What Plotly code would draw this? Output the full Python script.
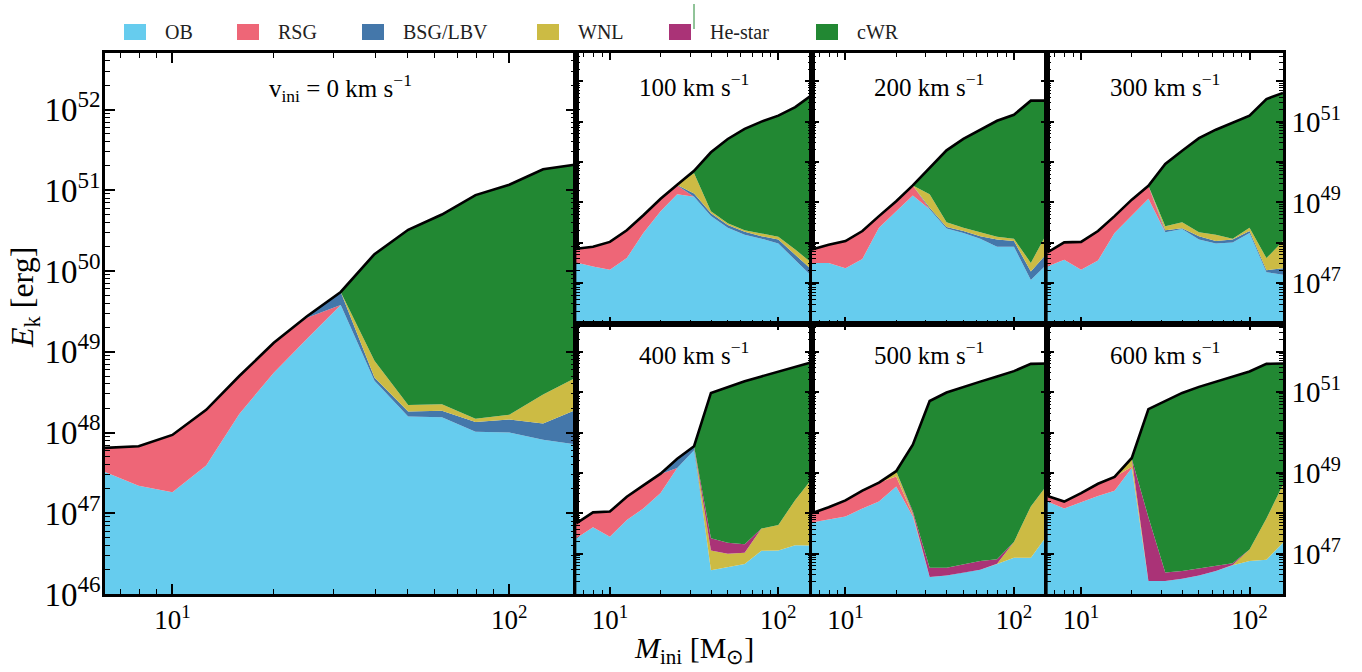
import numpy as np
import plotly.graph_objects as go

# Initial mass grid (M_sun)
mass = [6.31, 7.94, 10.0, 12.6, 15.8, 20.0, 25.1, 31.6, 39.8, 50.1, 63.1, 79.4, 100.0, 126.0, 158.0]
velocities = [0, 100, 200, 300, 400, 500, 600]
classes = ["OB", "RSG", "BSG/LBV", "WNL", "He-star", "cWR"]
colors = ["#66CCEE", "#EE6677", "#4477AA", "#CCBB44", "#AA3377", "#228833"]

# Cumulative kinetic energy (erg) at the upper edge of each stacked class,
# one row per initial rotation velocity (0 ... 600 km/s)
top_OB = [
    [3.24e47, 2.19e47, 1.82e47, 3.89e47, 1.70e48, 5.50e48, 1.45e49, 3.80e49, 4.37e48, 1.58e48, 1.55e48, 1.02e48, 1.00e48, 8.13e47, 7.08e47],
    [3.24e47, 2.57e47, 2.14e47, 4.17e47, 1.74e48, 6.03e48, 1.58e49, 1.38e49, 4.57e48, 2.34e48, 1.58e48, 1.26e48, 9.55e47, 3.80e47, 1.48e47],
    [3.16e47, 3.16e47, 2.34e47, 3.98e47, 2.34e48, 6.03e48, 1.48e49, 6.76e48, 2.24e48, 1.74e48, 1.26e48, 7.94e47, 7.94e47, 1.20e47, 3.02e47],
    [2.57e47, 3.80e47, 2.14e47, 3.63e47, 1.74e48, 4.57e48, 1.23e49, 1.82e48, 2.19e48, 1.20e48, 9.55e47, 1.02e48, 1.74e48, 1.86e47, 1.62e47],
    [2.40e47, 4.47e47, 2.63e47, 6.76e47, 1.32e48, 3.16e48, 1.32e49, 3.63e49, 3.89e46, 4.68e46, 5.50e46, 1.17e47, 1.20e47, 1.62e47, 1.58e47],
    [5.89e47, 7.08e47, 8.32e47, 1.32e48, 1.95e48, 4.57e48, 8.32e47, 2.63e46, 2.88e46, 3.39e46, 3.98e46, 5.50e46, 7.94e46, 7.94e46, 2.88e47],
    [1.95e48, 1.32e48, 1.86e48, 2.69e48, 3.63e48, 1.32e49, 2.09e46, 2.09e46, 2.40e46, 2.88e46, 3.72e46, 5.13e46, 6.61e46, 7.08e46, 1.86e47],
]
top_RSG = [
    [6.46e47, 6.76e47, 9.33e47, 1.91e48, 5.01e48, 1.29e49, 2.63e49, 3.80e49, 4.37e48, 1.58e48, 1.55e48, 1.02e48, 1.00e48, 8.13e47, 7.08e47],
    [7.08e47, 7.94e47, 1.05e48, 2.04e48, 4.79e48, 1.23e49, 2.63e49, 1.38e49, 4.57e48, 2.34e48, 1.58e48, 1.26e48, 9.55e47, 3.80e47, 1.48e47],
    [6.76e47, 8.91e47, 1.10e48, 1.95e48, 4.57e48, 1.07e49, 2.63e49, 6.76e48, 2.24e48, 1.74e48, 1.26e48, 7.94e47, 7.94e47, 1.20e47, 3.02e47],
    [5.75e47, 1.02e48, 1.05e48, 1.95e48, 4.57e48, 1.17e49, 2.57e49, 1.82e48, 2.19e48, 1.20e48, 9.55e47, 1.02e48, 1.74e48, 1.86e47, 1.62e47],
    [5.62e47, 1.05e48, 1.10e48, 2.57e48, 4.90e48, 9.33e48, 1.32e49, 3.63e49, 3.89e46, 4.68e46, 5.50e46, 1.17e47, 1.20e47, 1.62e47, 1.58e47],
    [1.00e48, 1.41e48, 2.09e48, 3.63e48, 5.75e48, 8.13e48, 9.12e47, 2.63e46, 2.88e46, 3.39e46, 3.98e46, 5.50e46, 7.94e46, 7.94e46, 2.88e47],
    [2.69e48, 1.95e48, 3.16e48, 5.37e48, 7.94e48, 1.41e49, 2.09e46, 2.09e46, 2.40e46, 2.88e46, 3.72e46, 5.13e46, 6.61e46, 7.08e46, 1.86e47],
]
top_BSG = [
    [6.46e47, 6.76e47, 9.33e47, 1.91e48, 5.01e48, 1.29e49, 2.75e49, 5.50e49, 4.79e48, 1.82e48, 1.86e48, 1.35e48, 1.45e48, 1.29e48, 1.91e48],
    [7.08e47, 7.94e47, 1.05e48, 2.04e48, 4.79e48, 1.23e49, 2.69e49, 1.66e49, 5.37e48, 2.75e48, 1.86e48, 1.45e48, 1.20e48, 5.13e47, 2.14e47],
    [6.76e47, 8.91e47, 1.10e48, 1.95e48, 4.57e48, 1.07e49, 2.63e49, 7.41e48, 2.45e48, 1.95e48, 1.45e48, 1.20e48, 1.10e48, 1.95e47, 5.62e47],
    [5.75e47, 1.02e48, 1.05e48, 1.95e48, 4.57e48, 1.17e49, 2.57e49, 2.04e48, 2.29e48, 1.45e48, 1.10e48, 1.20e48, 1.95e48, 2.09e47, 2.34e47],
    [5.62e47, 1.05e48, 1.10e48, 2.57e48, 4.90e48, 9.55e48, 2.24e49, 4.57e49, 3.89e46, 4.68e46, 5.50e46, 1.17e47, 1.20e47, 1.62e47, 1.58e47],
    [1.00e48, 1.41e48, 2.09e48, 3.63e48, 5.75e48, 8.13e48, 9.12e47, 2.63e46, 2.88e46, 3.39e46, 3.98e46, 5.50e46, 7.94e46, 7.94e46, 2.88e47],
    [2.69e48, 1.95e48, 3.16e48, 5.37e48, 7.94e48, 1.41e49, 2.09e46, 2.09e46, 2.40e46, 2.88e46, 3.72e46, 5.13e46, 6.61e46, 7.08e46, 1.86e47],
]
top_WNL = [
    [6.46e47, 6.76e47, 9.33e47, 1.91e48, 5.01e48, 1.29e49, 2.75e49, 5.50e49, 7.76e48, 2.19e48, 2.24e48, 1.48e48, 1.66e48, 2.95e48, 4.79e48],
    [7.08e47, 7.94e47, 1.05e48, 2.04e48, 4.79e48, 1.23e49, 2.75e49, 5.25e49, 6.03e48, 3.02e48, 2.04e48, 1.70e48, 1.41e48, 6.76e47, 3.16e47],
    [6.76e47, 8.91e47, 1.10e48, 1.95e48, 4.57e48, 1.07e49, 2.63e49, 1.58e49, 3.24e48, 2.34e48, 1.82e48, 1.41e48, 1.26e48, 3.16e47, 1.82e48],
    [5.75e47, 1.02e48, 1.05e48, 1.95e48, 4.57e48, 1.17e49, 2.57e49, 2.57e48, 3.24e48, 1.82e48, 1.58e48, 1.26e48, 2.34e48, 4.17e47, 1.10e48],
    [5.62e47, 1.05e48, 1.10e48, 2.57e48, 4.90e48, 9.55e48, 2.24e49, 4.57e49, 1.20e47, 1.00e47, 1.05e47, 4.17e47, 5.13e47, 2.14e48, 7.08e48],
    [1.00e48, 1.41e48, 2.09e48, 3.63e48, 5.75e48, 1.10e49, 1.00e48, 2.63e46, 2.88e46, 3.39e46, 3.98e46, 5.62e46, 1.95e47, 1.48e48, 5.13e48],
    [2.69e48, 1.95e48, 3.16e48, 5.37e48, 7.94e48, 2.24e49, 2.09e46, 2.09e46, 2.40e46, 2.88e46, 3.72e46, 5.25e46, 1.26e47, 7.41e47, 5.13e48],
]
top_He = [
    [6.46e47, 6.76e47, 9.33e47, 1.91e48, 5.01e48, 1.29e49, 2.75e49, 5.50e49, 7.76e48, 2.19e48, 2.24e48, 1.48e48, 1.66e48, 2.95e48, 4.79e48],
    [7.08e47, 7.94e47, 1.05e48, 2.04e48, 4.79e48, 1.23e49, 2.75e49, 5.25e49, 6.03e48, 3.02e48, 2.04e48, 1.70e48, 1.41e48, 6.76e47, 3.16e47],
    [6.76e47, 8.91e47, 1.10e48, 1.95e48, 4.57e48, 1.07e49, 2.63e49, 1.58e49, 3.24e48, 2.34e48, 1.82e48, 1.41e48, 1.26e48, 3.16e47, 1.82e48],
    [5.75e47, 1.02e48, 1.05e48, 1.95e48, 4.57e48, 1.17e49, 2.57e49, 2.57e48, 3.24e48, 1.82e48, 1.58e48, 1.26e48, 2.34e48, 4.17e47, 1.10e48],
    [5.62e47, 1.05e48, 1.10e48, 2.57e48, 4.90e48, 9.55e48, 2.24e49, 4.57e49, 2.40e47, 1.86e47, 1.70e47, 4.17e47, 5.13e47, 2.14e48, 7.08e48],
    [1.00e48, 1.41e48, 2.09e48, 3.63e48, 5.75e48, 1.10e49, 1.12e48, 4.47e46, 4.47e46, 5.50e46, 6.61e46, 7.24e46, 1.95e47, 1.48e48, 5.13e48],
    [2.69e48, 1.95e48, 3.16e48, 5.37e48, 7.94e48, 2.24e49, 7.94e47, 3.39e46, 3.72e46, 4.27e46, 4.90e46, 5.75e46, 1.26e47, 7.41e47, 5.13e48],
]
# Total kinetic energy (upper edge of the cWR layer)
E_total = [
    [6.46e47, 6.76e47, 9.33e47, 1.91e48, 5.01e48, 1.29e49, 2.75e49, 5.50e49, 1.62e50, 3.24e50, 5.01e50, 8.71e50, 1.17e51, 1.82e51, 2.09e51],
    [7.08e47, 7.94e47, 1.05e48, 2.04e48, 4.79e48, 1.23e49, 2.75e49, 6.03e49, 1.74e50, 3.72e50, 6.61e50, 1.00e51, 1.41e51, 2.29e51, 4.57e51],
    [6.76e47, 8.91e47, 1.10e48, 1.95e48, 4.57e48, 1.07e49, 2.63e49, 7.24e49, 1.95e50, 3.72e50, 6.31e50, 1.05e51, 1.48e51, 3.31e51, 3.31e51],
    [5.75e47, 1.02e48, 1.05e48, 1.95e48, 4.57e48, 1.17e49, 2.57e49, 8.91e49, 1.91e50, 3.89e50, 6.31e50, 9.55e50, 1.41e51, 3.63e51, 5.13e51],
    [5.62e47, 1.05e48, 1.10e48, 2.57e48, 4.90e48, 9.55e48, 2.24e49, 4.57e49, 9.55e50, 1.32e51, 1.86e51, 2.45e51, 3.24e51, 4.37e51, 5.50e51],
    [1.00e48, 1.41e48, 2.09e48, 3.63e48, 5.75e48, 1.10e49, 5.01e49, 6.03e50, 9.77e50, 1.35e51, 1.82e51, 2.45e51, 3.31e51, 5.01e51, 5.13e51],
    [2.69e48, 1.95e48, 3.16e48, 5.37e48, 7.94e48, 2.34e49, 3.80e50, 6.03e50, 9.55e50, 1.35e51, 1.82e51, 2.45e51, 3.24e51, 5.01e51, 5.13e51],
]

layers = [top_OB, top_RSG, top_BSG, top_WNL, top_He, E_total]

FONT = "Liberation Serif"
Y_RANGE = [46, 52.7]
X_RANGE = [np.log10(mass[0]), np.log10(mass[-1])]

# figure geometry in pixels (plot area)
L, R, T, B = 105, 1283, 53, 594
W, H = R - L, B - T


def fx(px):
    return (px - L) / W


def fy(py):
    return (B - py) / H


# panel placement: (x-domain, y-domain, show x labels, y label side)
panels = [
    ([0.0, 0.4], [0.0, 1.0], True, "left"),
    ([0.4, 0.6], [0.5, 1.0], False, None),
    ([0.6, 0.8], [0.5, 1.0], False, None),
    ([0.8, 1.0], [0.5, 1.0], False, "right"),
    ([0.4, 0.6], [0.0, 0.5], True, None),
    ([0.6, 0.8], [0.0, 0.5], True, None),
    ([0.8, 1.0], [0.0, 0.5], True, "right"),
]

fig = go.Figure()

for i, v in enumerate(velocities):
    xa = "x" if i == 0 else f"x{i + 1}"
    ya = "y" if i == 0 else f"y{i + 1}"
    # floor of the first filled layer, below the visible range
    fig.add_trace(go.Scatter(x=mass, y=[1e40] * len(mass), mode="lines",
                             line=dict(width=0, color="rgba(0,0,0,0)"),
                             xaxis=xa, yaxis=ya, showlegend=False, hoverinfo="skip"))
    for name, col, layer in zip(classes, colors, layers):
        fig.add_trace(go.Scatter(x=mass, y=layer[i], mode="lines", name=name,
                                 line=dict(width=0, color=col), fill="tonexty",
                                 fillcolor=col, xaxis=xa, yaxis=ya,
                                 showlegend=False, hoverinfo="skip"))
    fig.add_trace(go.Scatter(x=mass, y=E_total[i], mode="lines",
                             line=dict(width=2.6, color="black"),
                             xaxis=xa, yaxis=ya, showlegend=False, hoverinfo="skip"))

# tick positions
y_major = [10.0 ** k for k in range(46, 53)]
y_minor = [m * 10.0 ** k for k in range(46, 53) for m in range(2, 10)]
x_major = [10.0, 100.0]
x_minor = [m * 10.0 ** k for k in range(0, 3) for m in range(2, 10)]

layout_axes = {}
for i, (xd, yd, show_x, yside) in enumerate(panels):
    main = i == 0
    xkey = "xaxis" if main else f"xaxis{i + 1}"
    ykey = "yaxis" if main else f"yaxis{i + 1}"
    yanchor = "y" if main else f"y{i + 1}"
    xanchor = "x" if main else f"x{i + 1}"
    major_len = 10 if main else 7
    minor_len = 5 if main else 4
    layout_axes[xkey] = dict(
        type="log", domain=xd, anchor=yanchor, range=X_RANGE,
        showline=True, linecolor="black", linewidth=2.6, mirror="allticks",
        ticks="inside", ticklen=major_len, tickwidth=2, tickcolor="black",
        tickmode="array", tickvals=x_major,
        ticktext=["10<sup>1</sup>", "10<sup>2</sup>"],
        showticklabels=show_x,
        tickfont=dict(family=FONT, size=27, color="black"),
        minor=dict(tickmode="array", tickvals=x_minor, ticks="inside",
                   ticklen=minor_len, tickwidth=1.4, tickcolor="black"),
        showgrid=False, zeroline=False,
    )
    if main:
        ytext = [f"10<sup>{k}</sup>" for k in range(46, 53)]
        ysize = 33
        standoff = -5
    else:
        ytext = [f"10<sup>{k}</sup>" if k % 2 == 1 else "" for k in range(46, 53)]
        ysize = 29
        standoff = 0
    layout_axes[ykey] = dict(
        type="log", domain=yd, anchor=xanchor, range=Y_RANGE,
        side=yside if yside else "left",
        showline=True, linecolor="black", linewidth=2.6, mirror="allticks",
        ticks="inside", ticklen=major_len, tickwidth=2, tickcolor="black",
        tickmode="array", tickvals=y_major, ticktext=ytext,
        showticklabels=yside is not None, ticklabelstandoff=standoff,
        tickfont=dict(family=FONT, size=ysize, color="black"),
        minor=dict(tickmode="array", tickvals=y_minor, ticks="inside",
                   ticklen=minor_len, tickwidth=1.4, tickcolor="black"),
        showgrid=False, zeroline=False,
    )

annotations = []
# velocity labels
label_pos = [(340, 88), (694, 85), (929, 85), (1165, 85), (694, 353), (929, 353), (1165, 353)]
for v, (px, py) in zip(velocities, label_pos):
    txt = "v<sub>ini</sub> = 0 km s<sup>−1</sup>" if v == 0 else f"{v} km s<sup>−1</sup>"
    annotations.append(dict(x=fx(px), y=fy(py), xref="paper", yref="paper", text=txt,
                            showarrow=False, xanchor="center", yanchor="middle",
                            font=dict(family=FONT, size=25, color="black")))

# axis titles
annotations.append(dict(x=fx(24), y=fy(298), xref="paper", yref="paper",
                        text="<i>E</i><sub>k</sub> [erg]", textangle=-90, showarrow=False,
                        xanchor="center", yanchor="middle",
                        font=dict(family=FONT, size=32, color="black")))
annotations.append(dict(x=fx(694), y=fy(650), xref="paper", yref="paper",
                        text="<i>M</i><sub>ini</sub> [M<sub>⊙</sub>]", showarrow=False,
                        xanchor="center", yanchor="middle",
                        font=dict(family=FONT, size=30, color="black")))

# legend row
shapes = []
legend_x = [124, 237, 362, 537, 669, 816]
for name, col, lx in zip(classes, colors, legend_x):
    shapes.append(dict(type="rect", xref="paper", yref="paper",
                       x0=fx(lx), x1=fx(lx + 22), y0=fy(40), y1=fy(24),
                       fillcolor=col, line=dict(width=0)))
    annotations.append(dict(x=fx(lx + 39), y=fy(32), xref="paper", yref="paper",
                            text=name, showarrow=False, xanchor="left", yanchor="middle",
                            font=dict(family=FONT, size=20, color="#222222")))
shapes.append(dict(type="line", xref="paper", yref="paper",
                   x0=fx(694), x1=fx(694), y0=fy(4), y1=fy(29),
                   line=dict(color="#228833", width=1)))

fig.update_layout(
    width=1362, height=672,
    margin=dict(l=L, r=1362 - R, t=T, b=672 - B),
    paper_bgcolor="white", plot_bgcolor="white",
    showlegend=False,
    annotations=annotations, shapes=shapes,
    **layout_axes,
)

fig.write_html("out.html")
